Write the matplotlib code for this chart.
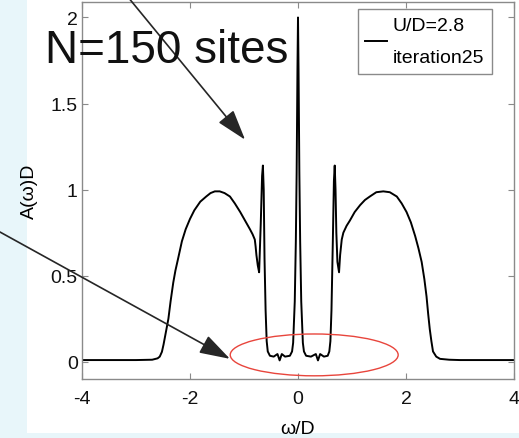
import matplotlib
matplotlib.use("Agg")
import matplotlib.pyplot as plt
from matplotlib.patches import Rectangle, Ellipse

plt.rcParams['font.family'] = ['Liberation Sans', 'DejaVu Sans']
plt.rcParams['axes.unicode_minus'] = False

# spectral function A(w)D versus w/D
omega = [-4.0, -3.0, -2.7, -2.6, -2.56, -2.52, -2.49, -2.46, -2.43, -2.40,
         -2.36, -2.31, -2.27, -2.22, -2.15, -2.08, -2.0, -1.92, -1.81, -1.70,
         -1.62, -1.54, -1.45, -1.36, -1.26, -1.17, -1.07, -0.98, -0.89, -0.84,
         -0.80, -0.785, -0.77, -0.745, -0.72, -0.69, -0.665, -0.65, -0.635, -0.62,
         -0.60, -0.58, -0.56, -0.52, -0.45, -0.38, -0.34, -0.30, -0.24, -0.15,
         -0.11, -0.09, -0.06, -0.04, -0.025, -0.01, 0.0, 0.01, 0.025, 0.04,
         0.06, 0.09, 0.11, 0.15, 0.24, 0.33, 0.37, 0.41, 0.48, 0.55,
         0.58, 0.60, 0.62, 0.645, 0.665, 0.68, 0.695, 0.71, 0.73, 0.76,
         0.78, 0.81, 0.84, 0.90, 0.96, 1.05, 1.15, 1.24, 1.33, 1.45,
         1.58, 1.70, 1.83, 1.92, 2.01, 2.09, 2.17, 2.23, 2.29, 2.34,
         2.38, 2.41, 2.44, 2.47, 2.50, 2.56, 2.63, 2.8, 3.0, 4.0]
spectral = [0.01, 0.01, 0.012, 0.02, 0.03, 0.058, 0.10, 0.15, 0.20, 0.25,
            0.35, 0.46, 0.53, 0.60, 0.70, 0.77, 0.83, 0.88, 0.93, 0.96,
            0.98, 0.99, 0.99, 0.98, 0.96, 0.92, 0.87, 0.82, 0.77, 0.74,
            0.71, 0.67, 0.62, 0.56, 0.52, 0.80, 1.08, 1.14, 1.00, 0.60,
            0.30, 0.12, 0.06, 0.035, 0.03, 0.045, 0.008, 0.045, 0.03, 0.035,
            0.06, 0.11, 0.35, 0.70, 1.10, 1.70, 2.0, 1.70, 1.10, 0.70,
            0.35, 0.11, 0.06, 0.035, 0.03, 0.045, 0.008, 0.045, 0.03, 0.035,
            0.06, 0.12, 0.30, 0.70, 1.05, 1.14, 1.00, 0.75, 0.58, 0.52,
            0.62, 0.71, 0.75, 0.79, 0.82, 0.87, 0.91, 0.94, 0.96, 0.985,
            0.99, 0.985, 0.96, 0.92, 0.87, 0.81, 0.73, 0.66, 0.58, 0.48,
            0.38, 0.28, 0.19, 0.12, 0.06, 0.03, 0.017, 0.012, 0.01, 0.01]

x_ticks = [-4, -2, 0, 2, 4]
y_ticks = [0, 0.5, 1, 1.5, 2]
y_tick_labels = ['0', '0.5', '1', '1.5', '2']
series_label = 'U/D=2.8\niteration25'
title_text = 'N=150 sites'

W, H = 519, 439
fig = plt.figure(figsize=(W / 100, H / 100), dpi=100, facecolor='#e8f6fa')
fig.add_artist(Rectangle((27 / W, 5 / H), 1 - 27 / W, 1 - 5 / H,
                         transform=fig.transFigure, facecolor='white',
                         edgecolor='none', zorder=-10))

ax = fig.add_axes([82 / W, (H - 380) / H, (514 - 82) / W, (380 - 3) / H])
ax.plot(omega, spectral, color='black', lw=1.4, label=series_label)

ax.set_xlim(-4, 4)
ax.set_ylim(-0.1, 2.09)
ax.set_xticks(x_ticks)
ax.set_xticklabels([str(v) for v in x_ticks])
ax.set_yticks(y_ticks)
ax.set_yticklabels(y_tick_labels)
for s in ax.spines.values():
    s.set_color('#8a8a8a')
    s.set_linewidth(1.0)
ax.tick_params(direction='in', length=4, color='#8a8a8a', labelsize=14,
               top=True, right=True, labelcolor='#111111')
ax.tick_params(axis='x', pad=8)
ax.tick_params(axis='y', pad=3)
ax.set_xlabel('ω/D', fontsize=14, labelpad=9)
ax.set_ylabel('A(ω)D', fontsize=14, labelpad=9)

leg = ax.legend(loc='upper right', bbox_to_anchor=(492 / W, 1 - 10 / H),
                bbox_transform=fig.transFigure, borderaxespad=0,
                fontsize=14, handlelength=1.13, handletextpad=0.28,
                borderpad=0.4, fancybox=False, framealpha=1)
leg.get_frame().set_edgecolor('#8a8a8a')
leg.get_frame().set_linewidth(1.0)
for t in leg.get_texts():
    t.set_linespacing(2.2)

fig.text(45 / W, 1 - 63 / H, title_text, fontsize=33, va='baseline',
         ha='left', color='#111111')

arrow_kw = dict(arrowstyle='-|>,head_length=0.95,head_width=0.3',
                mutation_scale=20, color='#262626', lw=1.2,
                shrinkA=0, shrinkB=0)
ax.annotate('', xy=(-0.98, 1.29), xytext=(-3.11, 2.104),
            arrowprops=arrow_kw, annotation_clip=False)
ax.annotate('', xy=(-1.26, 0.017), xytext=(-5.52, 0.754),
            arrowprops=arrow_kw, annotation_clip=False)

ax.add_patch(Ellipse((0.3, 0.04), 3.11, 0.243, fill=False,
                     edgecolor='#e8453c', lw=1.0, zorder=3))

fig.savefig('out.png', dpi=100)
